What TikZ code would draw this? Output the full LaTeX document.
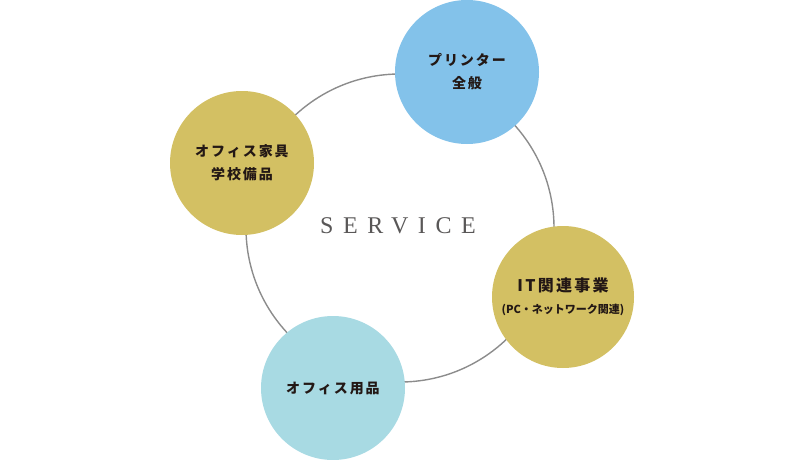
\documentclass[tikz,border=0pt]{standalone}
\usepackage{fontspec}
\setmainfont{Liberation Serif}
\newfontfamily\jp[LetterSpace=14]{Noto Sans CJK JP}
\newfontfamily\jpsmall[LetterSpace=0]{Noto Sans CJK JP}
\newfontfamily\svc[LetterSpace=40]{Liberation Serif}
\definecolor{ringgray}{HTML}{8C8C8C}
\definecolor{skyblue}{HTML}{83C2EA}
\definecolor{gold}{HTML}{D3C063}
\definecolor{paleblue}{HTML}{A8DAE3}
\definecolor{inkdark}{HTML}{231815}
\definecolor{svcgray}{HTML}{595757}
\begin{document}
\begin{tikzpicture}[x=1pt,y=-1pt,
  ring/.style={draw=ringgray,line width=1.4pt},
  bubble/.style={circle,minimum size=144pt,inner sep=0pt,align=center,
    text=inkdark,font=\jp\bfseries\fontsize{14}{23}\selectfont}]
\useasboundingbox (0,0) rectangle (800,460);
\coordinate (ringc) at (400,228);
\draw[ring] (ringc) circle[radius=154];
\node[text=svcgray,font=\svc\fontsize{24}{27}\selectfont] (service) at (398,226) {SERVICE};
\node[bubble,fill=skyblue] (printer) at (467,72) {プリンター\\全般};
\node[bubble,fill=gold] (furniture) at (242,163) {オフィス家具\\学校備品};
\node[bubble,fill=gold,minimum size=142pt] (it) at (563,297)
  {{\fontsize{16}{21}\selectfont IT関連事業}\\[-1pt]{\jpsmall\bfseries\fontsize{11}{14}\selectfont (PC・ネットワーク関連)}};
\node[bubble,fill=paleblue] (supplies) at (333,388) {オフィス用品};
\end{tikzpicture}
\end{document}
